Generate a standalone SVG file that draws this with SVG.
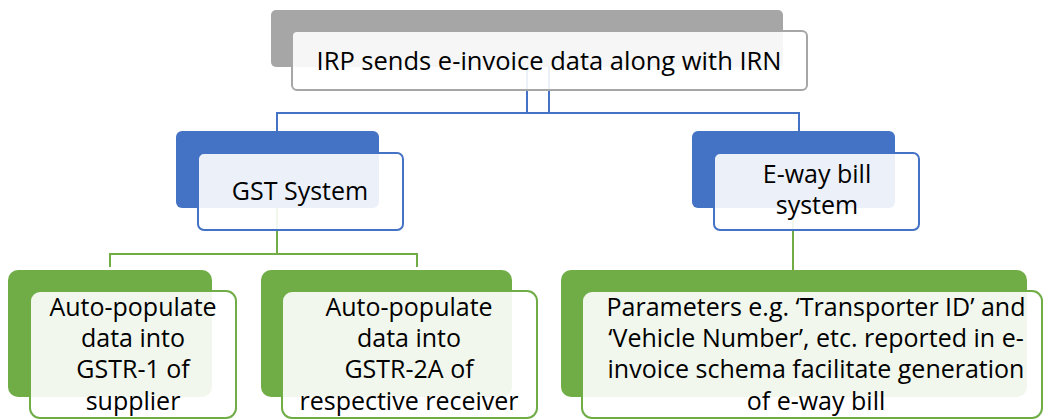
<svg xmlns="http://www.w3.org/2000/svg" width="1043" height="419" viewBox="0 0 1043 419">
<style>
.back-g{fill:#a6a6a6}
.back-b{fill:#4472c4}
.back-n{fill:#70ad47}
.front{fill:#ffffff;fill-opacity:0.9;stroke-width:2}
.fg{stroke:#a6a6a6}
.fb{stroke:#4472c4}
.fn{stroke:#70ad47}
.lb{fill:none;stroke:#4472c4;stroke-width:2}
.ln{fill:none;stroke:#70ad47;stroke-width:2}
text{font-family:"Open Sans","Noto Sans","DejaVu Sans",sans-serif;font-size:25px;fill:#000;text-anchor:middle}
</style>
<rect width="1043" height="419" fill="#ffffff"/>
<g id="connectors">
<path class="lb" d="M527,67V113M549,67V113M277,131V113H799V131"/>
<path class="ln" d="M277,207V254M110,267V254H417V267M793,207V270"/>
</g>
<g id="node-irp">
<rect class="back-g" x="271" y="10" width="512" height="57" rx="5"/>
<rect class="front fg" x="292" y="31" width="515" height="59" rx="5"/>
<text x="549" y="70" style="font-size:25.5px">IRP sends e-invoice data along with IRN</text>
</g>
<g id="node-gst">
<rect class="back-b" x="176" y="131" width="203" height="77" rx="6"/>
<rect class="front fb" x="198" y="153" width="205" height="77" rx="6"/>
<text x="300" y="200">GST System</text>
</g>
<g id="node-eway">
<rect class="back-b" x="692" y="131" width="203" height="77" rx="6"/>
<rect class="front fb" x="714" y="153" width="205" height="77" rx="6"/>
<text x="817" y="183">E-way bill</text>
<text x="817" y="214">system</text>
</g>
<g id="node-gstr1">
<rect class="back-n" x="8" y="270" width="204" height="127" rx="10"/>
<rect class="front fn" x="30" y="291" width="206" height="127" rx="10"/>
<text x="133" y="316">Auto-populate</text>
<text x="133" y="347">data into</text>
<text x="133" y="378">GSTR-1 of</text>
<text x="133" y="410">supplier</text>
</g>
<g id="node-gstr2a">
<rect class="back-n" x="261" y="270" width="251" height="127" rx="10"/>
<rect class="front fn" x="282" y="291" width="255" height="127" rx="10"/>
<text x="409" y="316">Auto-populate</text>
<text x="409" y="347">data into</text>
<text x="409" y="378">GSTR-2A of</text>
<text x="409" y="410">respective receiver</text>
</g>
<g id="node-params">
<rect class="back-n" x="561" y="270" width="466" height="127" rx="10"/>
<rect class="front fn" x="582" y="291" width="460" height="127" rx="10"/>
<text x="816" y="316">Parameters e.g. ‘Transporter ID’ and</text>
<text x="816" y="347">‘Vehicle Number’, etc. reported in e-</text>
<text x="816" y="378">invoice schema facilitate generation</text>
<text x="816" y="410">of e-way bill</text>
</g>
</svg>
